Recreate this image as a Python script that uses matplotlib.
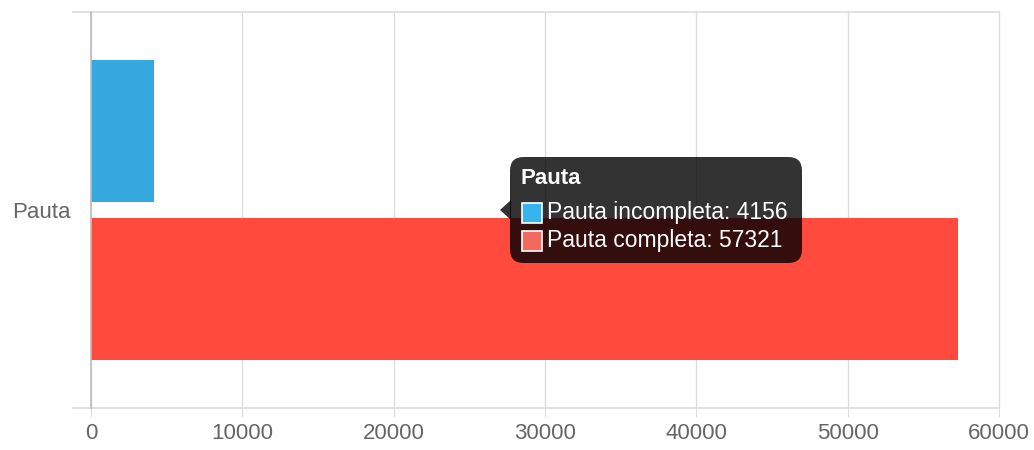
import matplotlib
matplotlib.use("Agg")
from matplotlib import pyplot as plt
from matplotlib.patches import FancyBboxPatch, Polygon, Rectangle

plt.rcParams['font.family'] = ['Liberation Sans', 'DejaVu Sans']

category = "Pauta"
series_names = ["Pauta incompleta", "Pauta completa"]
series_values = [4156, 57321]
series_colors = ["#36a8e0", "#ff4a3d"]
swatch_colors = ["#36b4f0", "#f26a5f"]
x_ticks = [0, 10000, 20000, 30000, 40000, 50000, 60000]

W, H = 1034, 450
fig = plt.figure(figsize=(W / 100, H / 100), dpi=100)
ax = fig.add_axes([91 / W, 1 - 408 / H, 908 / W, 396 / H])

grid_c = "#dcdcdc"
# Chart.js style grouping: categoryPercentage 0.8, barPercentage 0.9
bar_h = 0.8 / 2 * 0.9
offsets = [0.2, -0.2]
for name, val, col, off in zip(series_names, series_values, series_colors, offsets):
    ax.barh(off, val, height=bar_h, color=col, zorder=3, label=name)

ax.set_xlim(0, 60000)
ax.set_ylim(-0.5, 0.5)
ax.set_xticks(x_ticks)
ax.set_xticklabels([str(t) for t in x_ticks])
ax.set_yticks([0])
ax.set_yticklabels([category])
ax.set_yticks([-0.5, 0.5], minor=True)

for s in ["top", "right", "bottom"]:
    ax.spines[s].set_visible(False)
ax.spines["left"].set_color("#bdbdbd")
ax.spines["left"].set_linewidth(1.2)
ax.spines["left"].set_zorder(4)

ax.xaxis.grid(True, color=grid_c, linewidth=1, zorder=0)
ax.yaxis.grid(True, which="minor", color=grid_c, linewidth=1.2, zorder=0)
ax.tick_params(axis="x", length=6.5, color=grid_c, labelcolor="#666666",
               labelsize=16, pad=4)
ax.tick_params(axis="y", which="major", length=0, labelcolor="#666666",
               labelsize=16, pad=15)
ax.tick_params(axis="y", which="minor", length=14, color=grid_c, width=1.2)
for t in ax.xaxis.get_major_ticks() + ax.yaxis.get_minor_ticks():
    t.gridline.set_clip_on(False)

# tooltip
def px(x, y):
    return ((x - 91) / 908, (408 - y) / 396)

x0, y0 = px(510, 263)
x1, y1 = px(802, 157)
box = FancyBboxPatch((x0, y0), x1 - x0, y1 - y0,
                     boxstyle="round,pad=0,rounding_size=0.015",
                     transform=ax.transAxes, facecolor=(0, 0, 0, 0.8),
                     edgecolor="none", zorder=10, mutation_aspect=908 / 396)
ax.add_patch(box)
ax.add_patch(Polygon([px(500, 210), px(511, 200), px(511, 220)], closed=True,
                     transform=ax.transAxes, facecolor=(0, 0, 0, 0.8),
                     edgecolor="none", zorder=10))
tx, ty = px(521, 178)
ax.text(tx, ty, category, transform=ax.transAxes, color="white",
        fontsize=16, fontweight="bold", va="center", ha="left", zorder=11)
for i, (name, val, sc) in enumerate(zip(series_names, series_values, swatch_colors)):
    cy = 213 + i * 28
    sx, sy = px(522, cy + 10)
    sx2, sy2 = px(542, cy - 10)
    ax.add_patch(Rectangle((sx, sy), sx2 - sx, sy2 - sy, transform=ax.transAxes,
                           facecolor=sc, edgecolor="white", linewidth=1.2, zorder=11))
    lx, ly = px(547, cy)
    ax.text(lx, ly, f"{name}: {val}", transform=ax.transAxes, color="white",
            fontsize=16.5, va="center", ha="left", zorder=11)

fig.savefig("out.png", dpi=100)
